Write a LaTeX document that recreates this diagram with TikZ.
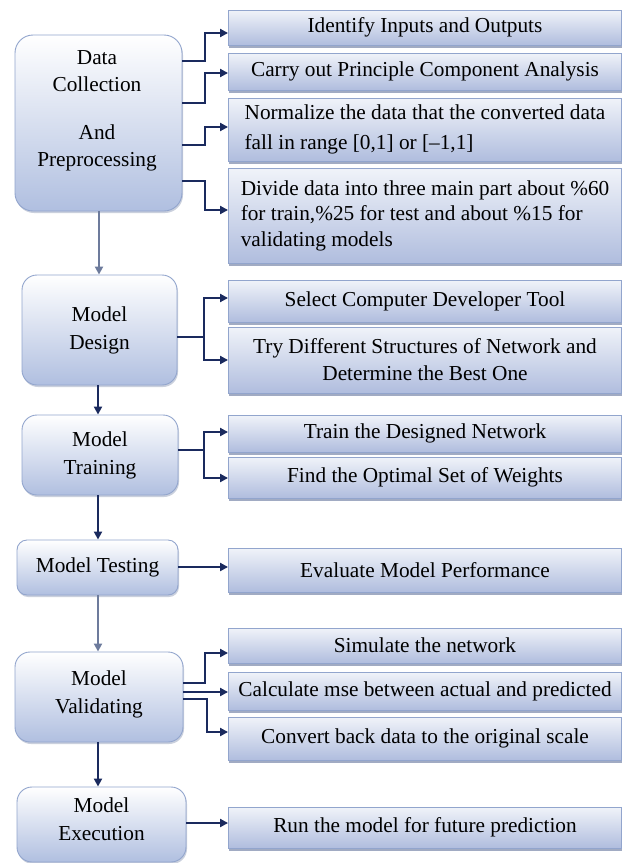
\documentclass[tikz,border=0pt]{standalone}
\usepackage{fontspec}
\setmainfont{Liberation Serif}
\usetikzlibrary{arrows.meta,shadows}
\definecolor{navy}{HTML}{1A2A5E}
\definecolor{greyarr}{HTML}{6D7B9C}
\definecolor{bordc}{HTML}{92A5CD}
\definecolor{lbot}{HTML}{B0BFE0}
\definecolor{rtop}{HTML}{F0F3F9}
\definecolor{rbot}{HTML}{B0BDDE}
\definecolor{shad}{HTML}{8A97B5}
\newcommand\myfs[1]{\fontsize{21.3}{#1}\selectfont}
\begin{document}
\begin{tikzpicture}[x=1pt,y=-1pt,
  lbox/.style={draw=bordc, line width=0.9pt, rounded corners=15pt, top color=white, bottom color=lbot,
    align=center, inner sep=0pt, font=\myfs{28},
    drop shadow={shadow xshift=1pt, shadow yshift=-2pt, fill=shad, opacity=0.45}},
  rbox/.style={draw=bordc, line width=0.9pt, top color=rtop, bottom color=rbot, minimum width=393pt,
    inner ysep=0pt, inner xsep=0pt, font=\myfs{27}, align=center,
    drop shadow={shadow xshift=0pt, shadow yshift=-2.5pt, fill=shad, opacity=0.8}},
  conn/.style={draw=navy, line width=2pt, -{Triangle[length=8pt,width=8pt]}},
  gconn/.style={conn, draw=greyarr},
]
\useasboundingbox (0,0) rectangle (623,863);
\fill[white] (0,0) rectangle (623,863);

% left boxes
\node[lbox, rounded corners=18pt, minimum width=167pt, minimum height=176pt] (b1) at (98.5,123) {};
\node[font=\myfs{27}, align=center, inner sep=0pt] (t1) at (97,111) {Data\\Collection\\[21pt]And\\Preprocessing};
\node[lbox, minimum width=155pt, minimum height=110pt] (b2) at (99.5,330) {Model\\Design};
\node[lbox, minimum width=156pt, minimum height=80pt] (b3) at (100,455) {Model\\Training};
\node[lbox, rounded corners=10pt, minimum width=161pt, minimum height=55pt] (b4) at (97.5,567.5) {Model Testing};
\node[lbox, minimum width=168pt, minimum height=90pt] (b5) at (99,697) {Model\\Validating\\[-18pt]};
\node[lbox, minimum width=169pt, minimum height=75pt] (b6) at (101.5,824.5) {Model\\Execution\\[-18pt]};

% right boxes
\node[rbox, minimum height=35pt] (r1) at (425,27.5) {Identify Inputs and Outputs};
\node[rbox, minimum height=37pt] (r2) at (425,71.5) {Carry out Principle Component Analysis};
\node[rbox, minimum height=63pt, align=left, font=\myfs{30}] (r3) at (425,129.5) {Normalize the data that the converted data\\fall in range [0,1] or [\textendash1,1]};
\node[rbox, minimum height=95pt, align=left, font=\myfs{25.5}] (r4) at (425,215.5) {Divide data into three main part about \%60\\for train,\%25 for test and about \%15 for\\validating models};
\node[rbox, minimum height=42pt] (r5) at (425,301) {Select Computer Developer Tool};
\node[rbox, minimum height=66pt] (r6) at (425,360) {Try Different Structures of Network and\\Determine the Best One};
\node[rbox, minimum height=37pt] (r7) at (425,433.5) {Train the Designed Network};
\node[rbox, minimum height=41pt] (r8) at (425,477.5) {Find the Optimal Set of Weights};
\node[rbox, minimum height=44pt] (r9) at (425,570) {Evaluate Model Performance};
\node[rbox, minimum height=35pt] (r10) at (425,645.5) {Simulate the network};
\node[rbox, minimum height=38pt] (r11) at (425,691) {Calculate mse between actual and predicted};
\node[rbox, minimum height=43pt] (r12) at (425,738.5) {Convert back data to the original scale};
\node[rbox, minimum height=41pt] (r13) at (425,827.5) {Run the model for future prediction};

% branch connectors
\draw[conn] (b1.east |- 0,61) -| (205,33) -- (r1.west |- 0,33);
\draw[conn] (b1.east |- 0,103) -| (205,73) -- (r2.west |- 0,73);
\draw[conn] (b1.east |- 0,145) -| (205,127) -- (r3.west |- 0,127);
\draw[conn] (b1.east |- 0,181) -| (205,210) -- (r4.west |- 0,210);

\draw[conn] (b2.east |- 0,337) -| (204,298) -- (r5.west |- 0,298);
\draw[conn] (b2.east |- 0,337) -| (204,360) -- (r6.west |- 0,360);

\draw[conn] (b3.east |- 0,450) -| (204,432) -- (r7.west |- 0,432);
\draw[conn] (b3.east |- 0,450) -| (204,478) -- (r8.west |- 0,478);

\draw[conn] (b4.east |- 0,567) -- (r9.west |- 0,567);

\draw[conn] (b5.east |- 0,683) -| (205,653) -- (r10.west |- 0,653);
\draw[conn] (b5.east |- 0,692) -- (r11.west |- 0,692);
\draw[conn] (b5.east |- 0,699) -| (207,732) -- (r12.west |- 0,732);

\draw[conn] (b6.east |- 0,823) -- (r13.west |- 0,823);

% vertical connectors
\draw[gconn] (b1.south -| 99,0) -- (b2.north -| 99,0);
\draw[conn] (b2.south -| 98,0) -- (b3.north -| 98,0);
\draw[conn] (b3.south -| 98,0) -- (b4.north -| 98,0);
\draw[gconn] (b4.south -| 98,0) -- (b5.north -| 98,0);
\draw[conn] (b5.south -| 98,0) -- (b6.north -| 98,0);
\end{tikzpicture}
\end{document}
